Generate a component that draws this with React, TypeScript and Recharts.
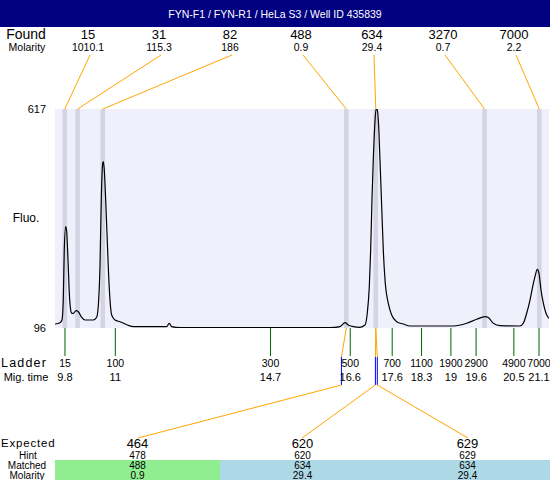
import {
  ComposedChart,
  Line,
  XAxis,
  YAxis,
  CartesianGrid,
  ReferenceArea,
  ReferenceLine,
} from "recharts";

// ── Electropherogram trace (migration time in s, fluorescence)
const TRACE_TIME = [
  9.562, 9.681, 9.728, 9.759, 9.783, 9.817, 9.841, 9.872, 9.903, 9.936,
  9.96, 9.998, 10.062, 10.117, 10.198, 10.277, 10.475, 10.556, 10.603, 10.634,
  10.665, 10.699, 10.713, 10.737, 10.77, 10.801, 10.832, 10.873, 10.913, 10.992,
  11.111, 11.428, 12.224, 12.286, 12.344, 12.541, 14.2, 16.117, 16.356, 16.475,
  16.553, 16.673, 16.832, 16.951, 17.006, 17.054, 17.087, 17.118, 17.149, 17.183,
  17.214, 17.245, 17.278, 17.309, 17.35, 17.388, 17.435, 17.507, 17.588, 17.707,
  17.864, 18.024, 19.057, 19.376, 19.614, 19.812, 19.891, 20.01, 20.17, 20.646,
  20.725, 20.806, 20.885, 20.949, 21.004, 21.059, 21.099, 21.147, 21.202, 21.283,
  21.338,
];
const TRACE_FLUO = [
  105.5, 108.6, 115, 162.6, 281.6, 337, 325.1, 257.8, 179.3, 138.8,
  131, 131, 137.2, 134.8, 121.5, 115, 115, 121.5, 162.6, 241.8,
  400.5, 487.8, 491.6, 471.9, 400.5, 322, 241.8, 162.6, 126.9, 115,
  111, 99.1, 99.1, 107.2, 99.1, 96.7, 96.9, 96.7, 99.1, 108.6,
  103.1, 99.1, 97.7, 103.1, 131, 194.3, 281.6, 400.5, 495.7, 574.9,
  616.3, 614.6, 574.9, 495.7, 384.6, 281.6, 202.3, 154.8, 126.9, 111,
  105.5, 100.8, 100.8, 107.2, 116.7, 122.9, 121, 107.2, 101.5, 100.8,
  107.2, 131, 162.6, 194.3, 218, 235.6, 226.1, 186.4, 155.5, 126.9,
  119.1,
];

// ── Ladder
const LADDER_SIZE = ["15", "100", "300", "500", "700", "1100", "1900", "2900", "4900", "7000"];
const LADDER_TIME = [9.8, 11, 14.7, 16.6, 17.6, 18.3, 19, 19.6, 20.5, 21.1];

// ── Found peaks
const FOUND_SIZE = ["15", "31", "82", "488", "634", "3270", "7000"];
const FOUND_MOLARITY = ["1010.1", "115.3", "186", "0.9", "29.4", "0.7", "2.2"];
const FOUND_TIME = [9.795, 10.1, 10.701, 16.506, 17.209, 19.802, 21.106];

// ── Expected / matched table
const EXPECTED_SIZE = ["464", "620", "629"];
const HINT_SIZE = ["478", "620", "629"];
const HINT_TIME = [16.39, 17.2, 17.245];
const MATCHED_SIZE = ["488", "634", "634"];
const MATCHED_MOLARITY = ["0.9", "29.4", "29.4"];
const MATCHED_FOUND = [3, 4, 4];

const Y_TICKS = [96, 617];

// ── layout
const W = 550;
const H = 480;
const PLOT_LEFT = 55;
const PLOT_RIGHT = 549;
const PLOT_TOP = 109;
const PLOT_BOTTOM = 328;
const X_MIN = 9.562;
const X_MAX = 21.338;
const Y_MIN = 96;
const Y_MAX = 617;
const FOUND_LABEL_X = [88, 159, 230, 301, 372, 443, 514];
const CELL_W = 165;
const EXP_LINE_X = [138, 302, 468];
const MATCH_COLORS = ["#90ee90", "#add8e6", "#add8e6"];
const BAND_HALF = 0.055;
const FONT = "'Liberation Sans', Arial, sans-serif";

const traceData = TRACE_TIME.map((t, i) => ({ t, v: TRACE_FLUO[i] }));

// pixel -> data, for the connector ends that sit outside the plot
const pxToT = (px: number) => X_MIN + ((px - PLOT_LEFT) / (PLOT_RIGHT - PLOT_LEFT)) * (X_MAX - X_MIN);
const pyToV = (py: number) => Y_MIN + ((PLOT_BOTTOM - py) / (PLOT_BOTTOM - PLOT_TOP)) * (Y_MAX - Y_MIN);

const ORANGE = "#ffa500";
const BLUE = "#0000ff";

type Seg = { a: { x: number; y: number }; b: { x: number; y: number }; color: string };
const segments: Seg[] = [];
FOUND_TIME.forEach((t, i) => {
  segments.push({ a: { x: pxToT(FOUND_LABEL_X[i] + 2), y: pyToV(55) }, b: { x: t, y: Y_MAX }, color: ORANGE });
});
HINT_TIME.forEach((h, i) => {
  const ft = FOUND_TIME[MATCHED_FOUND[i]];
  segments.push({ a: { x: ft, y: Y_MIN }, b: { x: h, y: pyToV(357) }, color: ORANGE });
  segments.push({ a: { x: h, y: pyToV(357) }, b: { x: h, y: pyToV(385) }, color: BLUE });
  segments.push({ a: { x: h, y: pyToV(385) }, b: { x: pxToT(EXP_LINE_X[i]), y: pyToV(438) }, color: ORANGE });
});

function LadderTick(props: any) {
  const { x, y, payload } = props;
  const i = LADDER_TIME.indexOf(payload.value);
  return (
    <g>
      <text x={x} y={y + 9} textAnchor="middle" fontSize={10.5} fill="#000">
        {LADDER_SIZE[i]}
      </text>
      <text x={x} y={y + 23} textAnchor="middle" fontSize={11} fill="#000">
        {LADDER_TIME[i]}
      </text>
    </g>
  );
}

function Overlay() {
  return (
    <svg width={W} height={H} style={{ position: "absolute", left: 0, top: 0 }} fontFamily={FONT}>
      <rect x={0} y={0} width={W} height={27} fill="#000080" />
      <text x={W / 2} y={14} fill="#fff" fontSize={10.5} textAnchor="middle" dominantBaseline="central">
        FYN-F1 / FYN-R1 / HeLa S3 / Well ID 435839
      </text>

      <text x={26} y={34} fontSize={14} textAnchor="middle" dominantBaseline="central">Found</text>
      <text x={27} y={47} fontSize={10.5} textAnchor="middle" dominantBaseline="central">Molarity</text>
      {FOUND_SIZE.map((s, i) => (
        <text key={"f" + i} x={FOUND_LABEL_X[i]} y={34} fontSize={13} textAnchor="middle" dominantBaseline="central">
          {s}
        </text>
      ))}
      {FOUND_MOLARITY.map((m, i) => (
        <text key={"m" + i} x={FOUND_LABEL_X[i]} y={47} fontSize={10.5} textAnchor="middle" dominantBaseline="central">
          {m}
        </text>
      ))}

      <text x={26} y={218} fontSize={12} textAnchor="middle" dominantBaseline="central">Fluo.</text>
      <text x={1} y={363} fontSize={12.5} letterSpacing={1.2} textAnchor="start" dominantBaseline="central">Ladder</text>
      <text x={26} y={377} fontSize={11} textAnchor="middle" dominantBaseline="central">Mig. time</text>

      {MATCH_COLORS.map((c, i) => (
        <rect key={"c" + i} x={PLOT_LEFT + CELL_W * i} y={460} width={CELL_W} height={20} fill={c} />
      ))}
      <text x={1} y={443} fontSize={11.5} letterSpacing={0.8} textAnchor="start" dominantBaseline="central">Expected</text>
      <text x={28} y={455} fontSize={10} textAnchor="middle" dominantBaseline="central">Hint</text>
      <text x={27} y={465} fontSize={10} textAnchor="middle" dominantBaseline="central">Matched</text>
      <text x={27} y={475} fontSize={10} textAnchor="middle" dominantBaseline="central">Molarity</text>
      {EXPECTED_SIZE.map((s, i) => {
        const cx = PLOT_LEFT + CELL_W * (i + 0.5);
        return (
          <g key={"e" + i}>
            <text x={cx} y={443} fontSize={13} textAnchor="middle" dominantBaseline="central">{s}</text>
            <text x={cx} y={455} fontSize={10} textAnchor="middle" dominantBaseline="central">{HINT_SIZE[i]}</text>
            <text x={cx} y={465} fontSize={10} textAnchor="middle" dominantBaseline="central">{MATCHED_SIZE[i]}</text>
            <text x={cx} y={475} fontSize={10} textAnchor="middle" dominantBaseline="central">{MATCHED_MOLARITY[i]}</text>
          </g>
        );
      })}
    </svg>
  );
}

export default function App() {
  return (
    <div style={{ position: "absolute", left: 0, top: 0, width: W, height: H, background: "#fff", fontFamily: FONT }}>
      <Overlay />
      <div style={{ position: "absolute", left: 0, top: 0 }}>
        <ComposedChart
          width={W}
          height={H}
          data={traceData}
          margin={{ top: PLOT_TOP, right: W - PLOT_RIGHT, bottom: 92, left: 0 }}
        >
          <CartesianGrid horizontal={false} vertical={false} fill="#f0f0fd" />
          {FOUND_TIME.map((t, i) => (
            <ReferenceArea
              key={"band" + i}
              x1={t - BAND_HALF}
              x2={t + BAND_HALF}
              y1={Y_MIN}
              y2={Y_MAX}
              fill="#d4d4e3"
              fillOpacity={1}
              stroke="none"
              ifOverflow="hidden"
            />
          ))}
          <XAxis
            dataKey="t"
            type="number"
            domain={[X_MIN, X_MAX]}
            allowDataOverflow
            ticks={LADDER_TIME}
            interval={0}
            height={60}
            axisLine={false}
            tickLine={{ stroke: "#006400" }}
            tickSize={28}
            tick={LadderTick}
          />
          <YAxis
            type="number"
            domain={[Y_MIN, Y_MAX]}
            allowDataOverflow
            ticks={Y_TICKS}
            interval={0}
            width={55}
            axisLine={false}
            tickLine={false}
            tickSize={6}
            tickMargin={3}
            tick={{ fontSize: 11, fill: "#000" }}
          />
          <Line
            dataKey="v"
            type="monotone"
            stroke="#000"
            strokeWidth={1.2}
            dot={false}
            isAnimationActive={false}
          />
          {segments.map((s, i) => (
            <ReferenceLine
              key={"seg" + i}
              segment={[s.a, s.b]}
              stroke={s.color}
              strokeWidth={1}
              ifOverflow="visible"
            />
          ))}
        </ComposedChart>
      </div>
    </div>
  );
}
